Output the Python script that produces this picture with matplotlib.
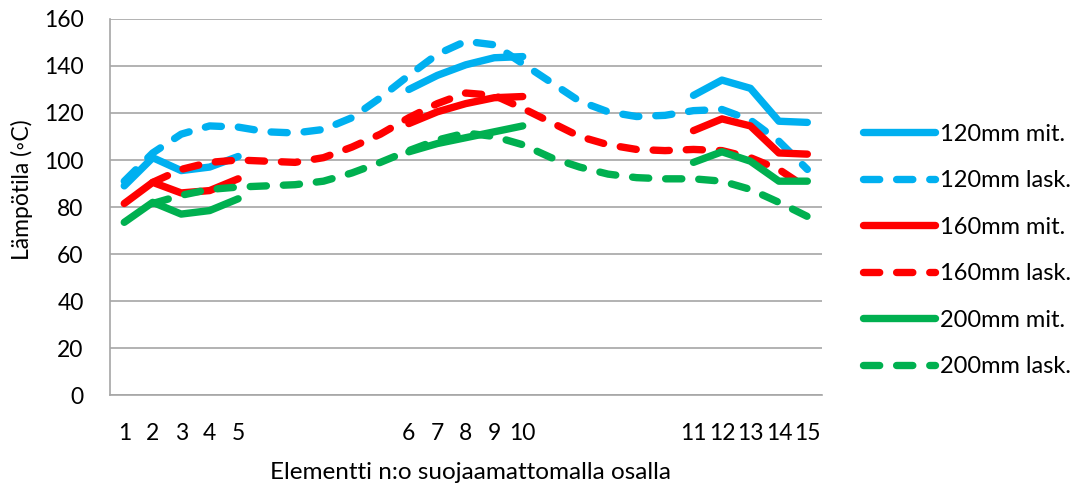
import numpy as np
import matplotlib
matplotlib.use("Agg")
import matplotlib.pyplot as plt

plt.rcParams['font.family'] = ['Lato', 'DejaVu Sans']

nan = np.nan

# x categories: elements 1-15 with empty slots between the three groups
x_labels = ["1", "2", "3", "4", "5", "", "", "", "", "",
            "6", "7", "8", "9", "10", "", "", "", "", "",
            "11", "12", "13", "14", "15"]

mit_120 = [89, 101, 95.5, 97, 101.5, nan, nan, nan, nan, nan,
           130, 136, 140.5, 143.5, 144, nan, nan, nan, nan, nan,
           127.5, 134, 130.5, 116.5, 116]
lask_120 = [91, 103, 111, 114.5, 114, 112, 111.5, 113, 118, 126.5,
            136, 145, 150.5, 149, 141, 133, 125, 120.5, 118.5, 119,
            121, 121.5, 117, 108, 96]
mit_160 = [81.5, 90.5, 86, 87, 92, nan, nan, nan, nan, nan,
           115.5, 120.5, 124, 126.5, 127, nan, nan, nan, nan, nan,
           112.5, 117.5, 114.5, 103, 102.5]
lask_160 = [nan, 90.5, 96, 99, 100, 99.5, 99, 101, 105.5, 111,
            118, 124, 128.5, 127.5, 122, 116, 110, 106.5, 104.5, 104,
            104.5, 104, 101, 96, 88]
mit_200 = [73.5, 82, 77, 78.5, 83.5, nan, nan, nan, nan, nan,
           103.5, 107, 109.5, 112, 114.5, nan, nan, nan, nan, nan,
           99, 103.5, 99.5, 91, 91]
lask_200 = [nan, 81.5, 85, 87.5, 88.5, 89, 89.5, 91, 94.5, 99,
            104, 108.5, 111.5, 110, 106.5, 101, 97, 94, 92.5, 92,
            92, 91, 87.5, 82, 76]

series = [
    ("120mm mit.", mit_120, "#00B0F0", "-"),
    ("120mm lask.", lask_120, "#00B0F0", "--"),
    ("160mm mit.", mit_160, "#FF0000", "-"),
    ("160mm lask.", lask_160, "#FF0000", "--"),
    ("200mm mit.", mit_200, "#00B050", "-"),
    ("200mm lask.", lask_200, "#00B050", "--"),
]

fig = plt.figure(figsize=(10.83, 4.86), dpi=100)
ax = fig.add_axes([0.1016, 0.187, 0.657, 0.774])

x = np.arange(len(x_labels))
for label, vals, col, ls in series:
    kw = dict(color=col, lw=5.3, solid_capstyle='round', solid_joinstyle='round',
              dash_capstyle='round', dash_joinstyle='round', label=label)
    if ls == "--":
        kw['dashes'] = (2.2, 2.3)
    ax.plot(x, np.array(vals, dtype=float), **kw)

ax.set_xlim(-0.5, len(x_labels) - 0.5)
ax.set_ylim(0, 160)
ax.set_yticks(range(0, 161, 20))
ax.set_xticks(x)
ax.set_xticklabels(x_labels)
ax.tick_params(axis='both', length=0, labelsize=16.5)
ax.tick_params(axis='x', pad=20)
ax.tick_params(axis='y', pad=19)

ax.grid(axis='y', color='#A6A6A6', lw=1.2)
ax.set_axisbelow(True)
for s in ['top', 'right']:
    ax.spines[s].set_visible(False)
for s in ['left', 'bottom']:
    ax.spines[s].set_color('#A6A6A6')
    ax.spines[s].set_linewidth(1.2)

ax.set_ylabel("Lämpötila (◦C)", fontsize=16.5)
ax.set_xlabel("Elementti n:o suojaamattomalla osalla", fontsize=17.5)
ax.xaxis.set_label_coords(0.506, -0.205)
ax.xaxis.label.set_va('center')
ax.yaxis.set_label_coords(-0.124, 0.545)
ax.yaxis.label.set_va('center')

ax.legend(loc='center left', bbox_to_anchor=(1.029, 0.385), frameon=False,
          fontsize=17, handlelength=3.05, handletextpad=0.2, labelspacing=1.08)

fig.savefig("out.png", dpi=100)
